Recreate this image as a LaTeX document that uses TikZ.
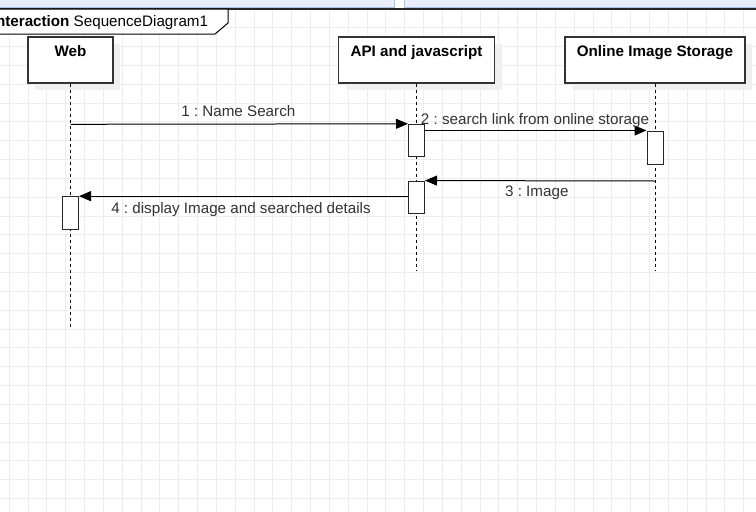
\documentclass[tikz,border=0pt]{standalone}
\usepackage{fontspec}
\setmainfont{Liberation Sans}
\usetikzlibrary{arrows.meta,shadows}
\definecolor{gridgray}{HTML}{EDEDED}
\definecolor{barblue}{HTML}{E8EFFB}
\definecolor{barline}{HTML}{A9C3EE}
\definecolor{labelgray}{HTML}{333333}
\frenchspacing
\tikzset{
	lifebox/.style={draw=black!80,fill=white,line width=1.3pt,minimum height=46pt,inner sep=0pt,drop shadow={shadow xshift=7pt,shadow yshift=-7pt,fill=black!6,opacity=1}},
	actbar/.style={draw=black!85,fill=white,line width=1pt,minimum width=16pt,inner sep=0pt},
	msg/.style={-{Triangle[length=12pt,width=10pt]},line width=1pt},
	lifeline/.style={dash pattern=on 3pt off 3pt,line width=1pt},
	head/.style={font=\fontsize{15.2}{18}\selectfont\bfseries,anchor=base,inner sep=0pt},
	msglabel/.style={font=\fontsize{15.2}{18}\selectfont,text=labelgray,anchor=base,inner sep=0pt}
}
\begin{document}
\begin{tikzpicture}[x=1pt,y=-1pt]
	\useasboundingbox (0,0) rectangle (756,512);
	\clip (0,0) rectangle (756,512);
	\fill[white] (0,0) rectangle (756,512);
	\foreach \i in {0,...,39}
		\draw[gridgray,line width=1pt] ({9.3+18.83*\i},0) -- ({9.3+18.83*\i},512);
	\foreach \i in {0,...,26}
		\draw[gridgray,line width=1pt] (0,{9+18.83*\i}) -- (756,{9+18.83*\i});
	\fill[barblue] (0,0) rectangle (756,8);
	\draw[barline] (0,7.5) -- (756,7.5);
	\draw[barline,fill=white] (394.3,-1) rectangle (403.7,8);
	\draw[line width=1.3pt,black!85] (0,9) -- (756,9);
	\draw[line width=1pt,fill=white] (-5,9) -- (228,9) -- (228,23) -- (215,34) -- (-5,34);
	\node[anchor=base east,inner sep=0pt,font=\fontsize{15.2}{18}\selectfont] (frame) at (208.3,26) {\textbf{interaction} SequenceDiagram1};
	\node[lifebox,minimum width=85pt] (web) at (70.5,60) {};
	\node[lifebox,minimum width=156pt] (api) at (416.5,60) {};
	\node[lifebox,minimum width=180pt] (store) at (655,60) {};
	\node[head] (webt) at ([yshift=-20pt]web.north) {Web};
	\node[head] (apit) at ([yshift=-20pt]api.north) {API and javascript};
	\node[head] (storet) at ([yshift=-20pt]store.north) {Online Image Storage};
	\coordinate (webend) at (70.5,327);
	\coordinate (apiend) at (416.5,270);
	\coordinate (storeend) at (655,270);
	\draw[lifeline] (web.south) -- (webend);
	\draw[lifeline] (api.south) -- (apiend);
	\draw[lifeline] (store.south) -- (storeend);
	\node[actbar,minimum height=32.4pt] (apiact1) at (416.5,140.5) {};
	\node[actbar,minimum height=33pt] (storeact) at (655,147.5) {};
	\node[actbar,minimum height=32.3pt] (apiact2) at (416.5,197.2) {};
	\node[actbar,minimum height=33.3pt] (webact) at (70.5,213.3) {};
	\coordinate (m1start) at (70.5,124.3);
	\coordinate (m3start) at (655,181);
	\draw[msg] (m1start) -- (apiact1.north west);
	\draw[msg] (apiact1.east |- storeact.north) -- (storeact.north west);
	\draw[msg] (m3start) -- (apiact2.north east);
	\draw[msg] (apiact2.west |- webact.north) -- (webact.north east);
	\node[msglabel] (l1) at (238.3,116.7) {1 : Name Search};
	\node[msglabel] (l2) at (535,124) {2 : search link from online storage};
	\node[msglabel] (l3) at (536.8,196.7) {3 : Image};
	\node[msglabel] (l4) at (241,213.3) {4 : display Image and searched details};
\end{tikzpicture}
\end{document}
